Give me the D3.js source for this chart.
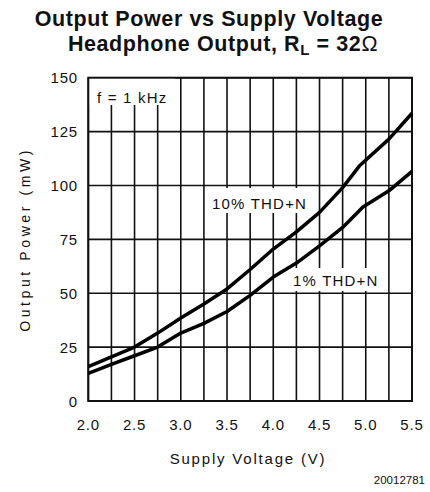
<!DOCTYPE html>
<meta charset="utf-8" />
<style>
  body { margin: 0; background: #fff; }
  text { font-family: "Liberation Sans", Arial, sans-serif; fill: #111; }
</style>
<svg width="430" height="492"></svg>
<script src="https://d3js.org/d3.v7.min.js"></script>
<script>
  // values
  var volts10 = [2.0, 2.25, 2.5, 2.75, 3.0, 3.25, 3.5, 3.75, 4.0, 4.25, 4.5, 4.75, 4.93, 5.25, 5.5];
  var power10 = [16, 20.5, 25, 31.5, 38.5, 45, 52, 61, 70.5, 78.5, 87.5, 99, 109, 121.5, 133.5];
  var volts1 = [2.0, 2.25, 2.5, 2.75, 3.0, 3.25, 3.5, 3.75, 4.0, 4.25, 4.5, 4.75, 4.97, 5.25, 5.5];
  var power1 = [12.8, 17, 21, 25, 31.5, 36, 41.5, 49, 57.5, 64, 72, 80.5, 90, 97.5, 106.5];
  var xTicks = [2.0, 2.5, 3.0, 3.5, 4.0, 4.5, 5.0, 5.5];
  var yTicks = [0, 25, 50, 75, 100, 125, 150];

  var svg = d3.select("svg");
  var pLeft = 88.3, pRight = 412, pTop = 77.7, pBottom = 401;

  var x = d3.scaleLinear().domain([2, 5.5]).range([pLeft, pRight]);
  var y = d3.scaleLinear().domain([0, 150]).range([pBottom, pTop]);

  // title
  var title = svg.append("g").style("font-weight", "bold").style("font-size", "21.5px")
    .style("letter-spacing", "0.6px");
  title.append("text").attr("x", 209).attr("y", 26).attr("text-anchor", "middle")
    .text("Output Power vs Supply Voltage");
  var t2 = title.append("text").attr("x", 223).attr("y", 51).attr("text-anchor", "middle");
  t2.append("tspan").text("Headphone Output, R");
  t2.append("tspan").attr("dy", 4).style("font-size", "15px").text("L");
  t2.append("tspan").attr("dy", -4).text(" = 32");
  t2.append("tspan").style("font-weight", "normal").text("\u03A9");

  // grid
  var grid = svg.append("g").attr("stroke", "#111").attr("stroke-width", 1.6);
  grid.selectAll("line.v")
    .data(d3.range(2, 5.5001, 0.25))
    .enter().append("line").attr("class", "v")
    .attr("x1", d => x(d)).attr("x2", d => x(d))
    .attr("y1", pTop).attr("y2", pBottom);
  grid.selectAll("line.h")
    .data(yTicks)
    .enter().append("line").attr("class", "h")
    .attr("x1", pLeft).attr("x2", pRight)
    .attr("y1", d => y(d)).attr("y2", d => y(d));

  // labels with white boxes over the grid
  function boxLabel(txt, tx, ty, bx0, by0, bx1, by1) {
    svg.append("rect").attr("x", bx0).attr("y", by0)
      .attr("width", bx1 - bx0).attr("height", by1 - by0).attr("fill", "#fff");
    svg.append("text").attr("x", tx).attr("y", ty)
      .style("font-size", "15px").style("letter-spacing", "1.2px")
      .text(txt);
  }
  boxLabel("f = 1 kHz", 97, 103, pLeft, pTop, 175, 105);
  boxLabel("10% THD+N", 212, 209, 207, 188, 312, 213);
  boxLabel("1% THD+N", 293, 286, 290, 268, 382, 291);

  svg.append("rect")
    .attr("x", pLeft).attr("y", pTop)
    .attr("width", pRight - pLeft).attr("height", pBottom - pTop)
    .attr("fill", "none").attr("stroke", "#111").attr("stroke-width", 2);

  // curves
  var line = d3.line().x(d => x(d[0])).y(d => y(d[1]));
  [[volts10, power10], [volts1, power1]].forEach(function(s) {
    svg.append("path")
      .datum(d3.zip(s[0], s[1]))
      .attr("d", line)
      .attr("fill", "none")
      .attr("stroke", "#000")
      .attr("stroke-width", 3.5)
      .attr("stroke-linejoin", "round");
  });

  // tick labels
  var ticks = svg.append("g").style("font-size", "15px").style("letter-spacing", "0.8px");
  ticks.selectAll("text.y")
    .data(yTicks)
    .enter().append("text").attr("class", "y")
    .attr("x", 78).attr("y", d => y(d) + 5.5)
    .attr("text-anchor", "end")
    .text(d => d);
  ticks.selectAll("text.x")
    .data(xTicks)
    .enter().append("text").attr("class", "x")
    .attr("x", d => x(d)).attr("y", 430)
    .attr("text-anchor", "middle")
    .text(d => d.toFixed(1));

  // axis titles
  svg.append("text")
    .attr("transform", "translate(30," + ((pTop + pBottom) / 2) + ") rotate(-90)")
    .attr("text-anchor", "middle")
    .style("font-size", "14px").style("letter-spacing", "3.6px")
    .text("Output Power (mW)");
  svg.append("text")
    .attr("x", 248).attr("y", 464)
    .attr("text-anchor", "middle")
    .style("font-size", "15px").style("letter-spacing", "1.8px")
    .text("Supply Voltage (V)");

  svg.append("text")
    .attr("x", 425).attr("y", 484)
    .attr("text-anchor", "end")
    .style("font-size", "11.5px")
    .text("20012781");
</script>
